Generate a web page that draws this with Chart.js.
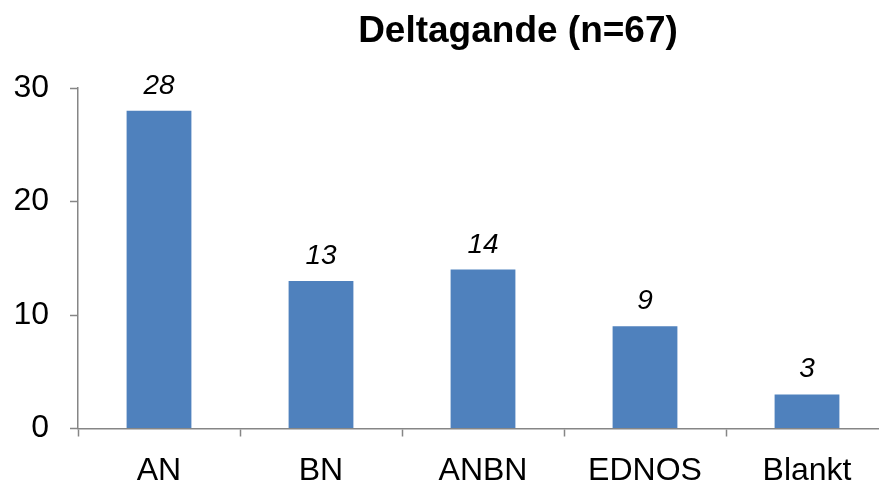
<!DOCTYPE html>
<html>
<head>
<meta charset="utf-8">
<script src="https://cdn.jsdelivr.net/npm/chart.js@4"></script>
<style>
  html, body { margin: 0; padding: 0; background: #fff; overflow: hidden; }
  #wrap { position: relative; width: 879px; height: 482px; overflow: hidden; }
  #box { position: absolute; left: 0; top: 0; width: 900px; height: 482px; }
  #title {
    position: absolute; left: 318px; top: 11px; width: 400px; text-align: center;
    font: bold 37px "Liberation Sans", Arial, sans-serif; line-height: 37px; color: #000;
  }
</style>
</head>
<body>
<div id="wrap">
  <div id="box"><canvas id="chart"></canvas></div>
  <div id="title">Deltagande (n=67)</div>
</div>
<script>
// ── Data ─────────────────────────────────────────────────────────────────────
const categories = ['AN', 'BN', 'ANBN', 'EDNOS', 'Blankt'];
const counts     = [28, 13, 14, 9, 3];
const yTicks     = [0, 10, 20, 30];

const axisColor = '#868686';
const font = '"Liberation Sans", Arial, sans-serif';

// value labels above each bar, italic
const valueLabels = {
  id: 'valueLabels',
  afterDatasetsDraw(chart) {
    const ctx = chart.ctx;
    const meta = chart.getDatasetMeta(0);
    ctx.save();
    ctx.font = 'italic 28px ' + font;
    ctx.fillStyle = '#000';
    ctx.textAlign = 'center';
    ctx.textBaseline = 'alphabetic';
    meta.data.forEach((bar, i) => {
      ctx.fillText(String(counts[i]), bar.x, bar.y - 17);
    });
    ctx.restore();
  },
};

new Chart(document.getElementById('chart'), {
  type: 'bar',
  data: {
    labels: categories,
    datasets: [{
      data: counts,
      backgroundColor: '#4F81BD',
      barPercentage: 0.4,
      categoryPercentage: 1,
    }],
  },
  options: {
    responsive: true,
    maintainAspectRatio: false,
    animation: false,
    layout: { padding: { top: 88, right: 12, bottom: 0, left: 0 } },
    plugins: {
      legend: { display: false },
      tooltip: { enabled: false },
      title: { display: false },
    },
    scales: {
      x: {
        offset: true,
        grid: {
          offset: true,
          drawOnChartArea: false,
          drawTicks: true,
          tickLength: 8,
          tickColor: axisColor,
          tickWidth: 1.5,
        },
        border: { color: axisColor, width: 1.5 },
        ticks: { color: '#000', padding: 15, maxRotation: 0, autoSkip: false, font: { size: 32, family: font } },
        afterFit: s => { s.height = 53.5; },
      },
      y: {
        min: 0,
        max: 30,
        afterBuildTicks: s => { s.ticks = yTicks.map(v => ({ value: v })); },
        grid: {
          drawOnChartArea: false,
          drawTicks: true,
          tickLength: 8,
          tickColor: axisColor,
          tickWidth: 1.5,
        },
        border: { color: axisColor, width: 1.5 },
        ticks: { color: '#000', padding: 21, font: { size: 32, family: font } },
        afterFit: s => { s.width = 78; },
      },
    },
  },
  plugins: [valueLabels],
});
</script>
</body>
</html>
